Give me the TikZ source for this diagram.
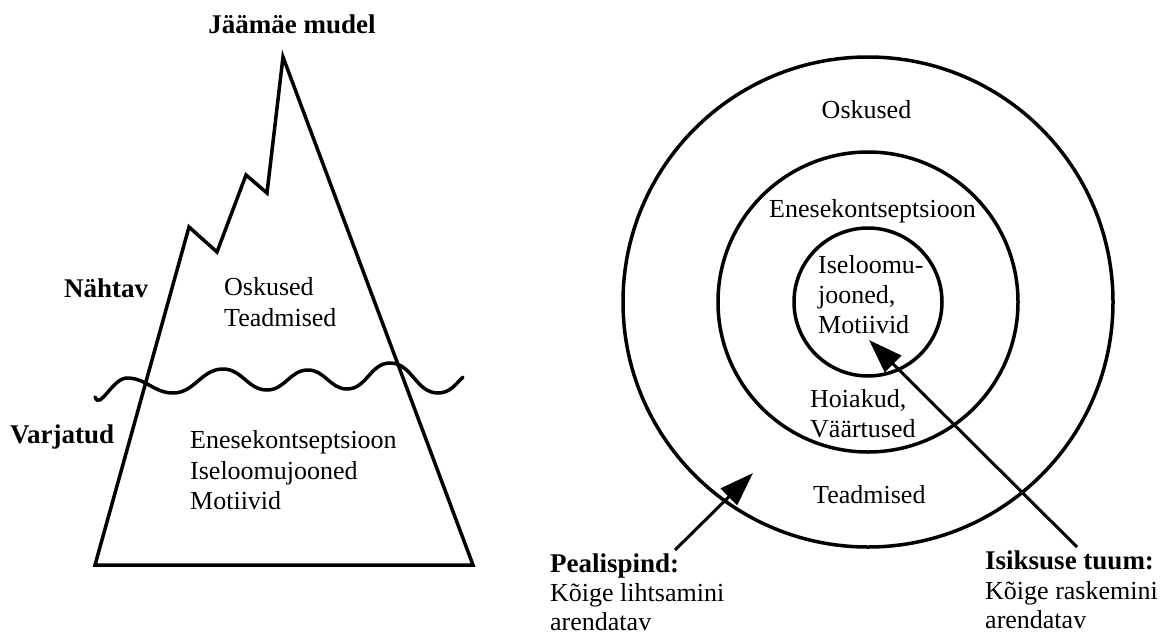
\documentclass[tikz,border=0pt]{standalone}
\usepackage{fontspec}
\setmainfont{Liberation Serif}
\usetikzlibrary{arrows.meta}
\begin{document}
\begin{tikzpicture}[x=1pt,y=-1pt,
  txt/.style={inner sep=0pt, font=\fontsize{26}{30}\selectfont},
  bftxt/.style={inner sep=0pt, font=\fontsize{27}{30}\selectfont\bfseries},
  ln/.style={line width=3.5pt},
  ring/.style={circle, draw, line width=3.5pt, inner sep=0pt},
  arr/.style={line width=3pt, -{Triangle[length=34pt,width=23pt]}}]
\useasboundingbox (0,0) rectangle (1168,635);

% iceberg
\draw[ln, line join=miter] (95,565) -- (189,227) -- (217,252) -- (246,175) -- (267,193) -- (283,57) -- (473,565) -- cycle;
% water line
\draw[ln, line cap=round] (95,397) to[out=-70,in=180] (127,378)
  to[out=0,in=180] (173,393) to[out=0,in=180] (223,369)
  to[out=0,in=180] (267,390) to[out=0,in=180] (308,370)
  to[out=0,in=180] (347,389) to[out=0,in=180] (390,363)
  to[out=0,in=180] (438,393) to[out=0,in=225] (463,377);

\node[bftxt, anchor=base] (title) at (292,33) {Jäämäe mudel};
\node[bftxt, anchor=base west] (naht) at (64,297) {Nähtav};
\node[bftxt, anchor=base west] (varj) at (10,443) {Varjatud};
\node[txt, anchor=base west] (osk1) at (224,295) {Oskused};
\node[txt, anchor=base west] (tea1) at (224,326) {Teadmised};
\node[txt, anchor=base west] (ene1) at (190,448) {Enesekontseptsioon};
\node[txt, anchor=base west] (ise1) at (190,479) {Iseloomujooned};
\node[txt, anchor=base west] (mot1) at (190,509) {Motiivid};

% circles
\node[ring, minimum size=490pt] (outer) at (868,302) {};
\node[ring, minimum size=300pt] (middle) at (868,302) {};
\node[ring, minimum size=148pt] (inner) at (868,302) {};

\node[txt, anchor=base] (osk2) at (866.5,118) {Oskused};
\node[txt, anchor=base] (ene2) at (872.5,217) {Enesekontseptsioon};
\node[txt, anchor=base west] (ise2) at (818,273) {Iseloomu-};
\node[txt, anchor=base west] (joo2) at (818,303) {jooned,};
\node[txt, anchor=base west] (mot2) at (818,333) {Motiivid};
\node[txt, anchor=base west] (hoi2) at (810,407) {Hoiakud,};
\node[txt, anchor=base west] (vaa2) at (810,437) {Väärtused};
\node[txt, anchor=base west] (tea2) at (813,503) {Teadmised};

\node[bftxt, anchor=base west] (peal) at (550,572) {Pealispind:};
\node[txt, anchor=base west] (peal2) at (550,601) {Kõige lihtsamini};
\node[txt, anchor=base west] (peal3) at (550,630) {arendatav};
\node[bftxt, anchor=base west] (isik) at (985,569) {Isiksuse tuum:};
\node[txt, anchor=base west] (isik2) at (985,599) {Kõige raskemini};
\node[txt, anchor=base west] (isik3) at (985,628) {arendatav};

% arrows
\coordinate (pA) at (675,550);
\coordinate (pT) at (753,473);
\coordinate (iA) at (1077,547);
\coordinate (iT) at (869,340);
\draw[arr] (pA) -- (pT);
\draw[arr] (iA) -- (iT);
\end{tikzpicture}
\end{document}
